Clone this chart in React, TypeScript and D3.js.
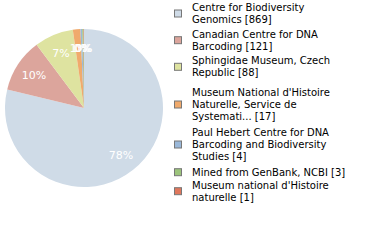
import React, { useEffect, useRef } from "react";
import * as d3 from "d3";

const categories: string[][] = [
  ["Centre for Biodiversity", "Genomics [869]"],
  ["Canadian Centre for DNA", "Barcoding [121]"],
  ["Sphingidae Museum, Czech", "Republic [88]"],
  ["Museum National d'Histoire", "Naturelle, Service de", "Systemati... [17]"],
  ["Paul Hebert Centre for DNA", "Barcoding and Biodiversity", "Studies [4]"],
  ["Mined from GenBank, NCBI [3]"],
  ["Museum national d'Histoire", "naturelle [1]"],
];
const values: number[] = [869, 121, 88, 17, 4, 3, 1];
const colors: string[] = ["#cfdbe7", "#dca59c", "#dee3a0", "#f0aa6c", "#9ab8d9", "#9cc47c", "#e0775c"];

// legend layout: first-line baseline of each item
const legendBaselines = [11, 37.7, 64.3, 96, 136, 175.7, 188.7];

export default function App() {
  const ref = useRef<SVGSVGElement>(null);
  useEffect(() => {
    const svg = d3.select(ref.current);
    svg.selectAll("*").remove();
    const W = 380, H = 240;
    const cx = 84, cy = 108, R = 79;
    const total = d3.sum(values);
    const pie = d3.pie<number>().sort(null).value((d) => d)(values);
    const arc = d3.arc<d3.PieArcDatum<number>>().innerRadius(0).outerRadius(R);
    const labelArc = d3.arc<d3.PieArcDatum<number>>().innerRadius(60).outerRadius(60);
    svg.append("rect").attr("width", W).attr("height", H).attr("fill", "#fff");
    const g = svg.append("g").attr("transform", `translate(${cx},${cy})`);
    g.selectAll("path.slice")
      .data(pie)
      .join("path")
      .attr("class", "slice")
      .attr("d", arc as any)
      .attr("fill", (_d, i) => colors[i]);
    g.selectAll("text.pl")
      .data(pie)
      .join("text")
      .attr("class", "pl")
      .attr("transform", (d) => `translate(${labelArc.centroid(d)})`)
      .attr("text-anchor", "middle")
      .attr("dy", "0.36em")
      .attr("fill", "#fff")
      .attr("font-family", "DejaVu Sans")
      .attr("font-size", 11)
      .text((d) => `${Math.floor((d.value / total) * 100)}%`);

    const lg = svg.append("g");
    categories.forEach((lines, i) => {
      const b = legendBaselines[i];
      const n = lines.length;
      const lh = 12;
      const midY = b - 3.5 + ((n - 1) * lh) / 2;
      lg.append("rect")
        .attr("x", 174.5)
        .attr("y", midY - 3.5)
        .attr("width", 7)
        .attr("height", 7)
        .attr("fill", colors[i])
        .attr("stroke", "#777")
        .attr("stroke-width", 1);
      const t = lg.append("text")
        .attr("font-family", "DejaVu Sans")
        .attr("font-size", 10)
        .attr("fill", "#000");
      lines.forEach((ln, j) => {
        t.append("tspan").attr("x", 192).attr("y", b + j * lh).text(ln);
      });
    });
  }, []);
  return (
    <svg
      ref={ref}
      width={380}
      height={240}
      style={{ position: "absolute", left: 0, top: 0, display: "block" }}
    />
  );
}
